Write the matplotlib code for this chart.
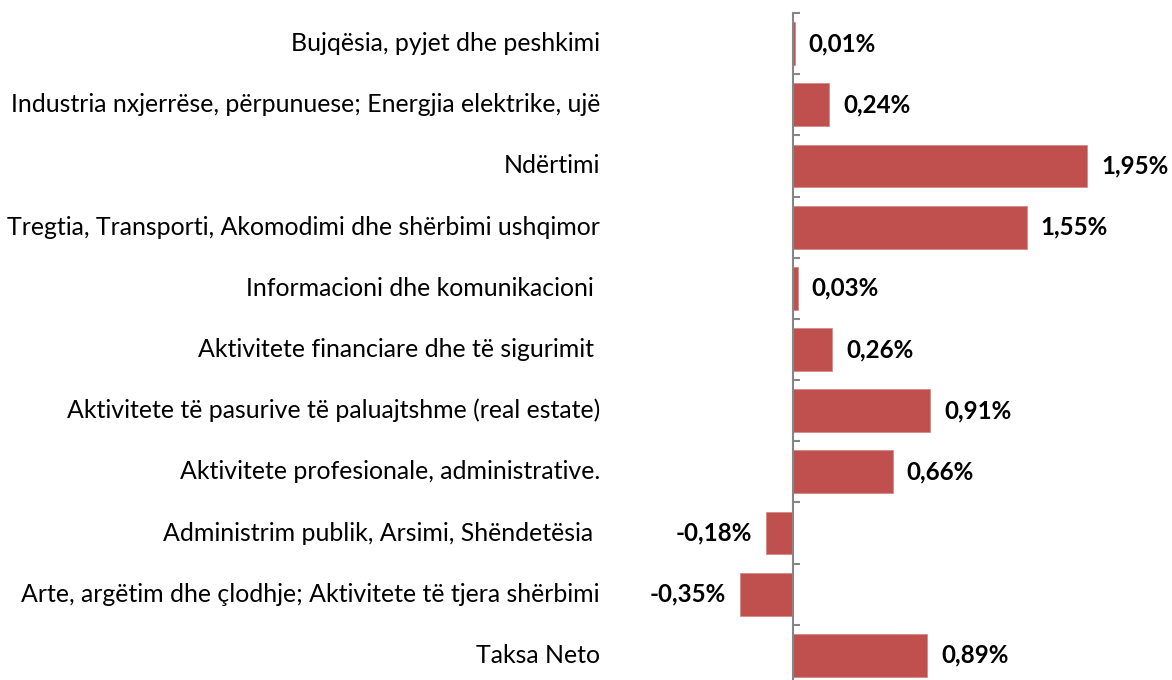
import matplotlib.pyplot as plt
from matplotlib.ticker import FixedLocator, NullLocator

# categories (top to bottom) and contribution values in %
sectors = [
    "Bujqësia, pyjet dhe peshkimi",
    "Industria nxjerrëse, përpunuese; Energjia elektrike, ujë",
    "Ndërtimi",
    "Tregtia, Transporti, Akomodimi dhe shërbimi ushqimor",
    "Informacioni dhe komunikacioni ",
    "Aktivitete financiare dhe të sigurimit ",
    "Aktivitete të pasurive të paluajtshme (real estate)",
    "Aktivitete profesionale, administrative.",
    "Administrim publik, Arsimi, Shëndetësia ",
    "Arte, argëtim dhe çlodhje; Aktivitete të tjera shërbimi",
    "Taksa Neto",
]
values = [0.01, 0.24, 1.95, 1.55, 0.03, 0.26, 0.91, 0.66, -0.18, -0.35, 0.89]

plt.rcParams['font.family'] = ['Lato', 'DejaVu Sans']

fig = plt.figure(figsize=(11.72, 6.8), dpi=100)
ax = fig.add_axes([610 / 1172, -6 / 680, 562 / 1172, 673 / 680])

pos = list(range(len(values)))
ax.barh(pos, values, height=0.70, color='#C0504D', edgecolor='#D58A88', linewidth=0.6)

ax.set_xlim(-1.2135, 2.513)
ax.set_ylim(len(values) - 0.5, -0.5)

# vertical axis at zero with ticks between categories
for s in ['top', 'right', 'bottom']:
    ax.spines[s].set_visible(False)
ax.spines['left'].set_position(('data', 0))
ax.spines['left'].set_color('#868686')
ax.spines['left'].set_linewidth(1.5)
ax.yaxis.set_major_locator(NullLocator())
ax.yaxis.set_minor_locator(FixedLocator([i - 0.5 for i in range(len(values) + 1)]))
ax.tick_params(axis='y', which='minor', direction='in', length=5, width=1.5, color='#868686')
ax.set_xticks([])

# category labels on the left
for i, name in enumerate(sectors):
    ax.text(-0.018, i, name, transform=ax.get_yaxis_transform(),
            ha='right', va='center', fontsize=17.9, color='black')

# value labels
for i, v in enumerate(values):
    txt = f"{v:.2f}%".replace('.', ',')
    if v >= 0:
        ax.annotate(txt, (v, i), xytext=(10, 0), textcoords='offset points',
                    ha='left', va='center', fontsize=17.4, fontweight='bold')
    else:
        ax.annotate(txt, (v, i), xytext=(-10, 0), textcoords='offset points',
                    ha='right', va='center', fontsize=17.4, fontweight='bold')

fig.savefig('out.png', dpi=100)
